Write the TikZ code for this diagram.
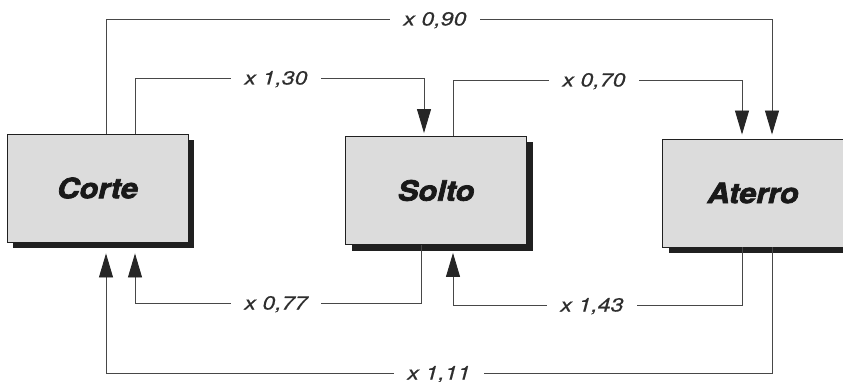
\documentclass[tikz,border=0pt]{standalone}
\usepackage{fontspec}
\setmainfont{TeX Gyre Heros}
\newfontfamily\labfont[FakeStretch=1.22,FakeBold=0.4]{TeX Gyre Heros}
\newfontfamily\boxfont[FakeStretch=1.1,FakeBold=2.6]{TeX Gyre Heros}
\usetikzlibrary{arrows.meta,shadows,calc}
\definecolor{boxfill}{HTML}{DCDCDC}
\definecolor{linec}{HTML}{474747}
\definecolor{shadowc}{HTML}{202020}
\tikzset{
  stagebox/.style={draw=shadowc, line width=0.9pt, fill=boxfill,
    minimum width=181pt, minimum height=108pt, inner sep=0pt,
    font=\boxfont\bfseries\itshape\fontsize{28}{30}\selectfont, text=black!90,
    drop shadow={shadow xshift=6pt, shadow yshift=-6pt, fill=shadowc, opacity=1}},
  conn/.style={draw=linec, line width=0.9pt,
    -{Triangle[length=24pt,width=14pt,fill=black!85,color=black!85]}},
  lab/.style={fill=white, inner xsep=13pt, inner ysep=0pt, text height=13pt, text depth=0pt,
    font=\labfont\itshape\fontsize{19}{21}\selectfont, text=black!82}
}
\begin{document}
\begin{tikzpicture}[x=1pt,y=-1pt]
\useasboundingbox (0,0) rectangle (843,382);
\clip (0,0) rectangle (843,382);
\fill[white] (0,0) rectangle (843,382);

\node[stagebox] (corte) at (97.5,188) {Corte};
\node[stagebox] (solto) at (436,190.5) {Solto};
\node[stagebox] (aterro) at (753,193) {Aterro};

% levels
\coordinate (y90) at (0,19);
\coordinate (y130) at (0,78);
\coordinate (y070) at (0,80);
\coordinate (y077) at (0,303);
\coordinate (y143) at (0,305);
\coordinate (y111) at (0,373);

% start / end points
\coordinate (cA) at ([xshift=8.5pt]corte.north);
\coordinate (cB) at ([xshift=37.5pt]corte.north);
\coordinate (cAin) at ([xshift=8.5pt,yshift=-11pt]corte.south);
\coordinate (cBin) at ([xshift=37.5pt,yshift=-11pt]corte.south);
\coordinate (sAin) at ([xshift=-12pt,yshift=3pt]solto.north);
\coordinate (sB) at ([xshift=17pt]solto.north);
\coordinate (sC) at ([xshift=-15pt]solto.south);
\coordinate (sBin) at ([xshift=17pt,yshift=-8pt]solto.south);
\coordinate (aAin) at ([xshift=-11pt,yshift=4pt]aterro.north);
\coordinate (aBin) at ([xshift=19pt,yshift=4pt]aterro.north);
\coordinate (aA) at ([xshift=-11pt]aterro.south);
\coordinate (aB) at ([xshift=19pt]aterro.south);

% connectors
\draw[conn] (cA) -- (cA |- y90) -- node[lab,pos=0.494] {x 0,90} (aBin |- y90) -- (aBin);
\draw[conn] (cB) -- (cB |- y130) -- node[lab,pos=0.488] {x 1,30} (sAin |- y130) -- (sAin);
\draw[conn] (sB) -- (sB |- y070) -- node[lab,pos=0.488] {x 0,70} (aAin |- y070) -- (aAin);
\draw[conn] (sC) -- (sC |- y077) -- node[lab,pos=0.507] {x 0,77} (cBin |- y077) -- (cBin);
\draw[conn] (aA) -- (aA |- y143) -- node[lab,pos=0.519] {x 1,43} (sBin |- y143) -- (sBin);
\draw[conn] (aB) -- (aB |- y111) -- node[lab,pos=0.50] {x 1,11} (cAin |- y111) -- (cAin);
\end{tikzpicture}
\end{document}
